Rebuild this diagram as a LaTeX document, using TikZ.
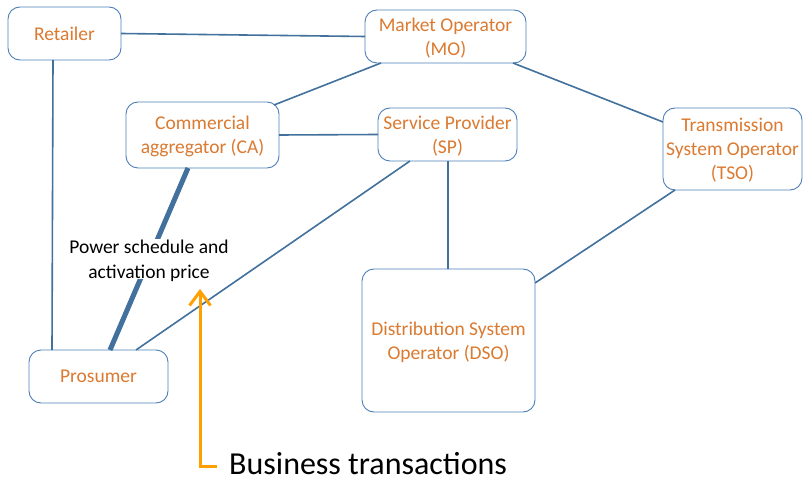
\documentclass[tikz,border=0pt]{standalone}
\usepackage{fontspec}
\setmainfont{Carlito}
\usetikzlibrary{arrows.meta}
\definecolor{boxline}{HTML}{4E80B8}
\definecolor{conn}{HTML}{41719C}
\definecolor{txtor}{HTML}{DB7A30}
\definecolor{arrowor}{HTML}{FFA000}
\begin{document}
\begin{tikzpicture}[x=1pt,y=-1pt,
  actor/.style={draw=boxline, line width=0.9pt, rounded corners=12pt, inner sep=0pt, outer sep=0pt,
    align=center, text=txtor, text depth=0pt, font=\fontsize{19.5}{24}\selectfont},
  link/.style={draw=conn, line width=1.6pt},
  thicklink/.style={draw=conn, line width=5pt},
  lbl/.style={fill=white, inner sep=1pt, align=center, text=black, text depth=0pt, font=\fontsize{19.5}{25}\selectfont},
  bigtext/.style={inner sep=0pt, text=black, font=\fontsize{32}{38}\selectfont},
  orangearrow/.style={draw=arrowor, line width=3pt, -{Straight Barb[length=14pt,width=21pt]}}]
\useasboundingbox[fill=white] (0,0) rectangle (803,481);
% actors
\node[actor, minimum width=113pt, minimum height=53pt] (ret) at (64.5,33.5) {Retailer};
\node[actor, minimum width=161pt, minimum height=53pt] (mo) at (445.5,36.5) {Market Operator\\(MO)};
\node[actor, minimum width=153pt, minimum height=66pt] (ca) at (202.5,135) {Commercial\\aggregator (CA)};
\node[actor, minimum width=139pt, minimum height=53pt] (sp) at (447.5,134.5) {Service Provider\\(SP)};
\node[actor, minimum width=139pt, minimum height=82pt] (tso) at (732.5,149) {Transmission\\System Operator\\(TSO)};
\node[actor, minimum width=173pt, minimum height=143pt] (dso) at (448.5,340.5) {Distribution System\\Operator (DSO)};
\node[actor, minimum width=139pt, minimum height=53pt] (pros) at (98.5,376.5) {Prosumer};
% connectors
\draw[link] (ret.east) -- (mo.west);
\draw[link] ([xshift=45pt]ret.south west) -- ([xshift=23pt]pros.north west);
\draw[link] ([xshift=16pt]mo.south west) -- ([xshift=-5pt,yshift=-3pt]ca.north east);
\draw[link] ([xshift=-13pt]mo.south east) -- ([yshift=-14pt]tso.north west);
\draw[link] (ca.east) -- (sp.west);
\draw[link] ([xshift=32pt]sp.south west) -- ([xshift=107pt]pros.north west);
\draw[link] ([xshift=0.5pt]sp.south) -- ([xshift=0.5pt]sp.south |- dso.north);
\draw[link] ([xshift=12pt]tso.south west) -- ([yshift=-14pt]dso.north east);
\draw[thicklink] ([xshift=62pt]ca.south west) -- node[lbl] (label) {Power schedule and\\activation price} ([xshift=81pt]pros.north west);
% business transactions
\node[bigtext, anchor=base west] (bt) at (229,474) {Business transactions};
\coordinate (tip) at (200,289);
\draw[orangearrow] ([xshift=-12pt,yshift=8pt]bt.base west) -| (tip);
\end{tikzpicture}
\end{document}
